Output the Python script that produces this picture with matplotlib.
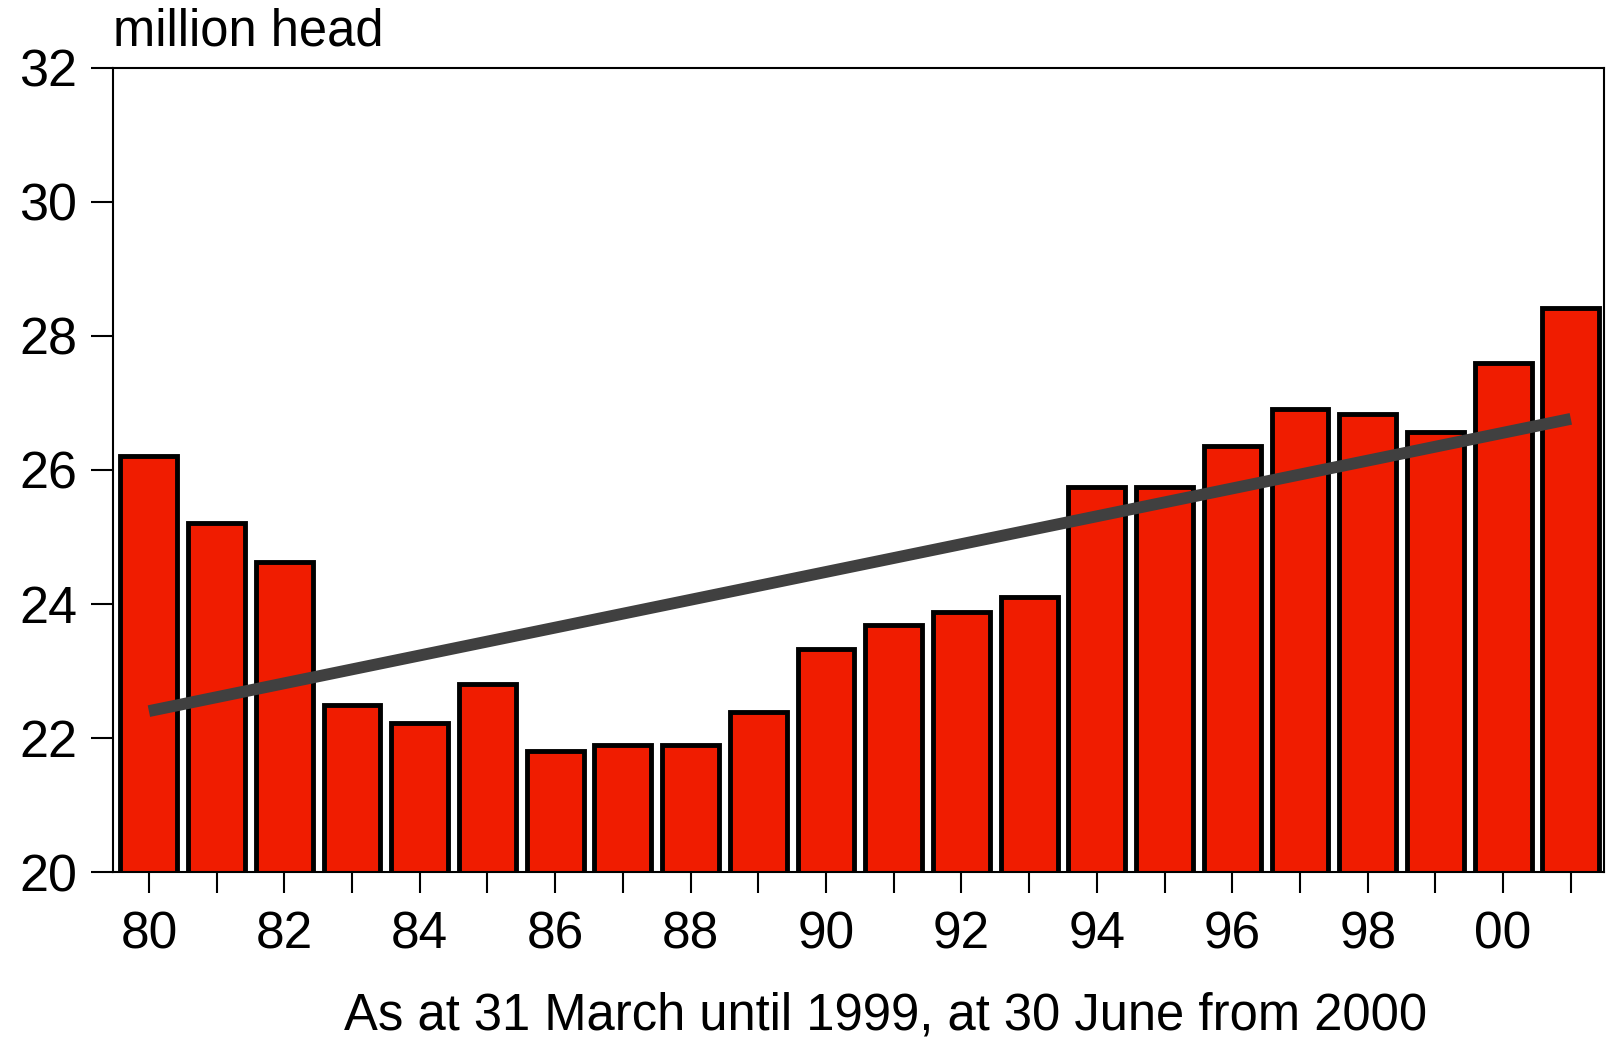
import matplotlib.pyplot as plt

plt.rcParams['font.family'] = ['Liberation Sans', 'DejaVu Sans']

years = list(range(1980, 2002))
herd = [26.2, 25.2, 24.62, 22.49, 22.22, 22.8, 21.8, 21.9, 21.9, 22.38, 23.32,
        23.68, 23.88, 24.1, 25.75, 25.75, 26.36, 26.91, 26.83, 26.56, 27.6, 28.42]
trend_years = [1980, 2001]
trend_values = [22.4, 26.76]
label_years = list(range(1980, 2001, 2))
y_ticks = [20, 22, 24, 26, 28, 30, 32]

W, H = 1607, 1042
fig = plt.figure(figsize=(W / 100, H / 100), dpi=100)
ax = fig.add_axes([113 / W, 1 - 872 / H, (1604 - 113) / W, (872 - 67.6) / H])

ax.bar(years, herd, width=0.84, color='#f01c00', edgecolor='black', linewidth=3.5)
ax.plot(trend_years, trend_values, color='#404040', linewidth=8.5, solid_capstyle='butt')

ax.set_xlim(1979.47, 2001.49)
ax.set_ylim(20, 32)
ax.set_yticks(y_ticks)
ax.set_xticks(years)
ax.set_xticklabels([f"{y % 100:02d}" if y in label_years else "" for y in years])

for s in ax.spines.values():
    s.set_linewidth(1.5)
ax.tick_params(axis='y', direction='out', length=16, width=1.5, pad=10, labelsize=37.5)
ax.tick_params(axis='x', direction='out', length=15, width=1.5, pad=13, labelsize=37)

fig.text(113 / W, 1 - 46 / H, "million head", fontsize=36.5, ha='left', va='baseline')
fig.text(886 / W, 1 - 1029 / H, "As at 31 March until 1999, at 30 June from 2000",
         fontsize=36.5, ha='center', va='baseline')

fig.savefig('out.png', dpi=100)
